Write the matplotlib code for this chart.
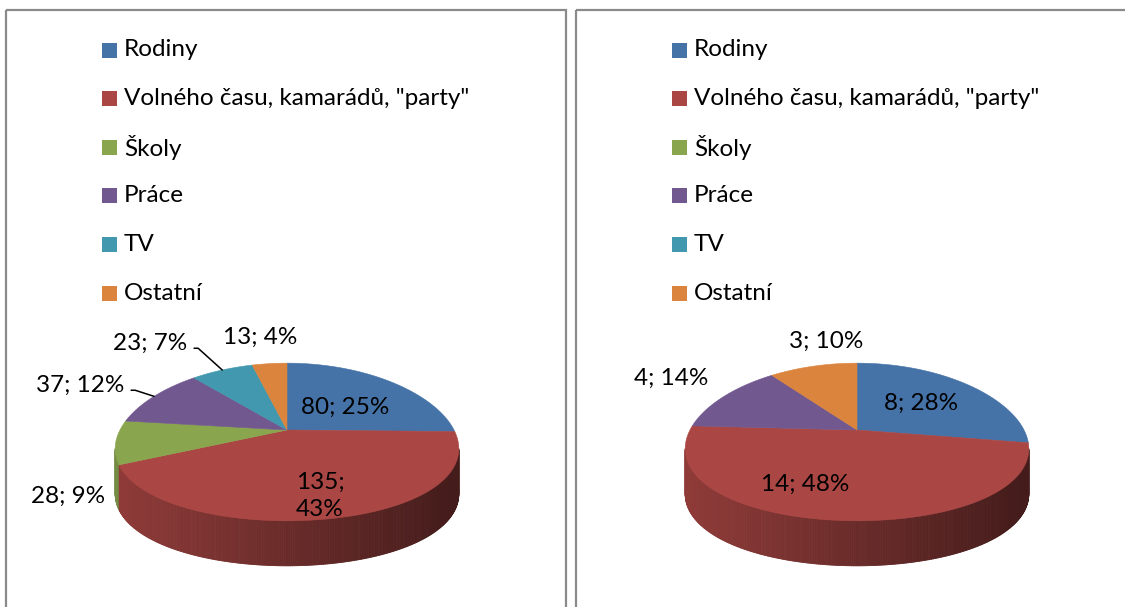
import numpy as np
import matplotlib.pyplot as plt
from matplotlib.patches import Polygon, Rectangle
from matplotlib.collections import PolyCollection
from matplotlib.colors import to_rgb

plt.rcParams['font.family'] = ['Lato', 'DejaVu Sans']

# data
categories = ['Rodiny', 'Volného času, kamarádů, "party"', 'Školy', 'Práce', 'TV', 'Ostatní']
colors = ['#4572A7', '#AA4643', '#89A54E', '#71588F', '#4198AF', '#DB843D']

left_counts = [80, 135, 28, 37, 23, 13]
left_pcts = [25, 43, 9, 12, 7, 4]
right_counts = [8, 14, 0, 4, 0, 3]
right_pcts = [28, 48, 0, 14, 0, 10]

# layout: label offsets from pie apex in px, None = no label
left_label_off = [(58, -23), (33, 66), (-219, 66), (-207, -45), (-137, -87), (-27, -93)]
left_leader = [False, False, False, True, True, False]
right_label_off = [(64, -27), (-52, 54), None, (-186, -52), None, (-31, -89)]
right_leader = [False] * 6

W, H = 1125, 607
RX, RY, KX, KY, DEPTH = 167, 77, 0.235, 0.152, 45
FS = 17.5


def proj(cx, cy, X, Y):
    return cx + RX * X / (1 + KX * Y), cy - RY * Y / (1 + KY * Y)


def draw_pie(ax, cx, cy, counts, pcts, label_off, leader, wrap=None):
    counts = np.array(counts, dtype=float)
    frac = counts / counts.sum()
    cum = np.concatenate([[0], np.cumsum(frac)])
    start = 90 - cum[:-1] * 360
    end = 90 - cum[1:] * 360

    # visible side between the silhouette points, shaded left to right
    sil = np.degrees(np.arcsin(KX))
    t = np.radians(np.linspace(180 + sil, 360 - sil, 301))
    quads, qcols = [], []
    for t0, t1 in zip(t[:-1], t[1:]):
        tm = np.degrees((t0 + t1) / 2)
        f = ((90 - tm) % 360) / 360
        i = min(np.searchsorted(cum, f, side='right') - 1, len(counts) - 1)
        x0, y0 = proj(cx, cy, np.cos(t0), np.sin(t0))
        x1, y1 = proj(cx, cy, np.cos(t1), np.sin(t1))
        quads.append([(x0, y0), (x1, y1), (x1, y1 + DEPTH), (x0, y0 + DEPTH)])
        u = ((x0 + x1) / 2 - (cx - RX)) / (2 * RX)
        k = 0.84 - 0.44 * np.clip(u, 0, 1)
        qcols.append(np.array(to_rgb(colors[i])) * k)
    ax.add_collection(PolyCollection(quads, facecolors=qcols, edgecolors=qcols, linewidths=0.6))

    # top wedges
    for i in range(len(counts)):
        if counts[i] == 0:
            continue
        tt = np.radians(np.linspace(start[i], end[i], 200))
        xs, ys = proj(cx, cy, np.cos(tt), np.sin(tt))
        pts = [(cx, cy)] + list(zip(xs, ys))
        ax.add_patch(Polygon(pts, closed=True, facecolor=colors[i], edgecolor=colors[i], lw=0.4))

    # data labels
    for i in range(len(counts)):
        if label_off[i] is None:
            continue
        txt = f'{int(counts[i])}; {pcts[i]}%'
        if wrap == i:
            txt = f'{int(counts[i])};\n{pcts[i]}%'
        lx, ly = cx + label_off[i][0], cy + label_off[i][1]
        if leader[i]:
            mid = np.radians((start[i] + end[i]) / 2)
            ex, ey = proj(cx, cy, np.cos(mid), np.sin(mid))
            ax.annotate(txt, xy=(ex, ey), xytext=(lx, ly), ha='center', va='center',
                        fontsize=FS, color='black',
                        arrowprops=dict(arrowstyle='-', color='black', lw=1.1,
                                        relpos=(1, 0.25), shrinkA=3, shrinkB=0,
                                        connectionstyle='arc,angleA=0,armA=11,angleB=0,armB=0,rad=0'))
        else:
            ax.text(lx, ly, txt, ha='center', va='center', fontsize=FS, color='black',
                    multialignment='left', linespacing=1.4)


fig = plt.figure(figsize=(W / 100, H / 100), dpi=100)
ax = fig.add_axes([0, 0, 1, 1])
ax.set_xlim(0, W)
ax.set_ylim(H, 0)
ax.axis('off')

# chart frames
ax.add_patch(Rectangle((6, 10), 560, 605, fill=False, edgecolor='#8a8a8a', lw=1.6))
ax.add_patch(Rectangle((576, 10), 560, 605, fill=False, edgecolor='#8a8a8a', lw=1.6))

# legends
for x0 in (102, 672):
    for j, name in enumerate(categories):
        yc = 50 + 48.6 * j
        ax.add_patch(Rectangle((x0, yc - 7.5), 15, 15, facecolor=colors[j], edgecolor='none'))
        ax.text(x0 + 22, yc, name, ha='left', va='center', fontsize=FS, color='black')

draw_pie(ax, 287, 430, left_counts, left_pcts, left_label_off, left_leader, wrap=1)
draw_pie(ax, 857, 430, right_counts, right_pcts, right_label_off, right_leader)

fig.savefig('out.png', dpi=100)
